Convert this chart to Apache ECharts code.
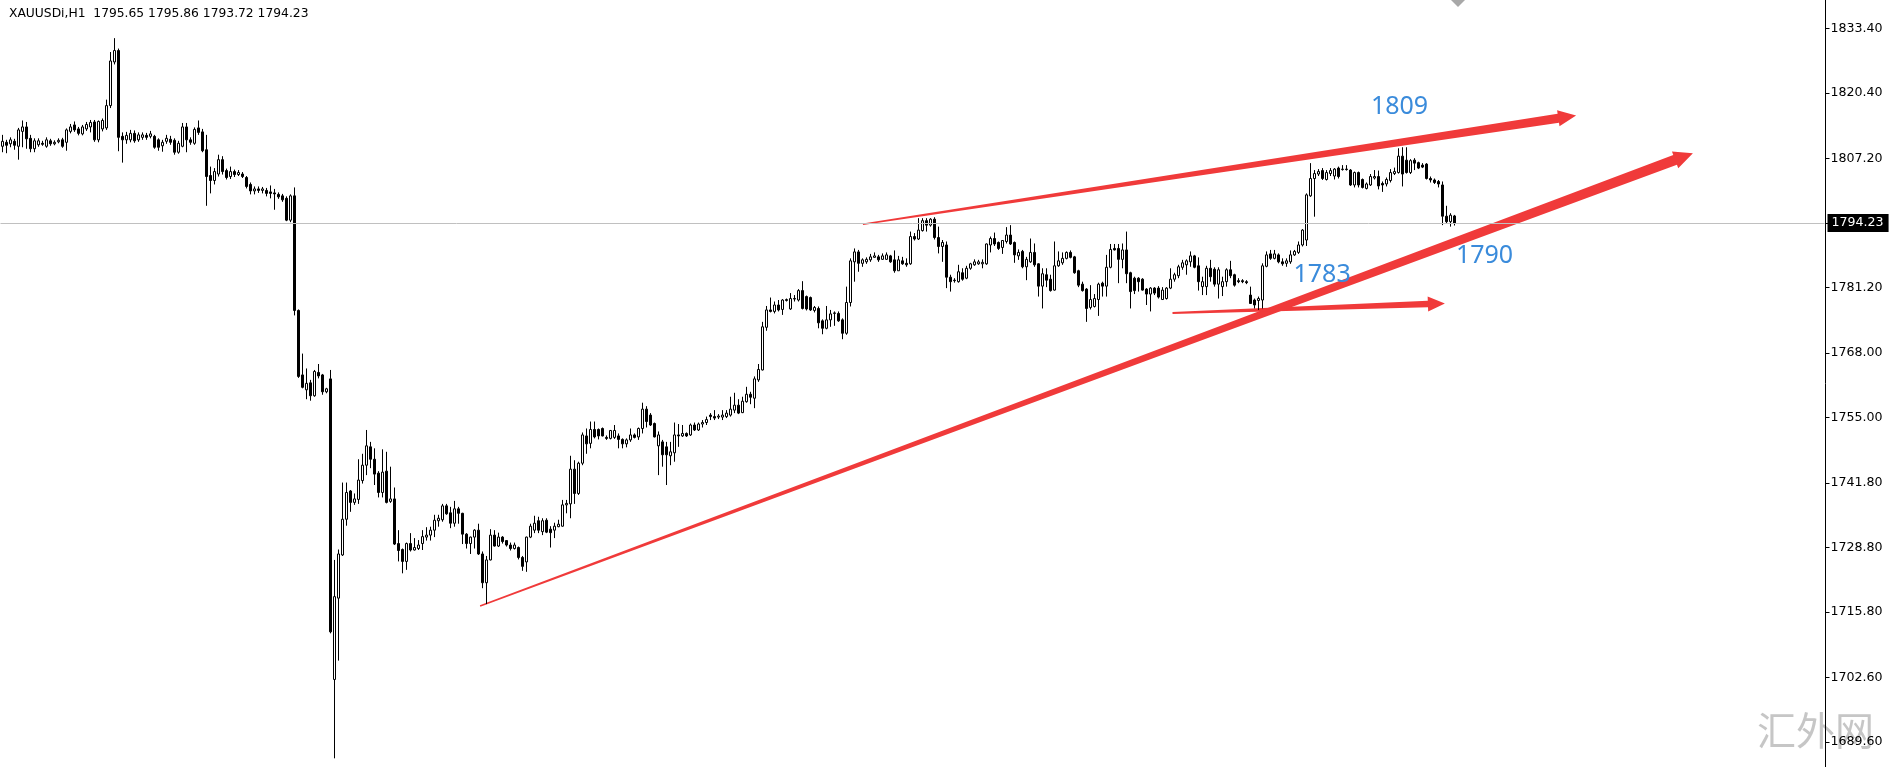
<!DOCTYPE html>
<html><head><meta charset="utf-8">
<script src="https://cdn.jsdelivr.net/npm/echarts@6/dist/echarts.min.js"></script>
<style>html,body{margin:0;padding:0;background:#fff}#c{width:1889px;height:767px}</style>
</head><body><div id="c"></div>
<script>
const symbolTitle = 'XAUUSDi,H1  1795.65 1795.86 1793.72 1794.23';
// each row: [open, close, low, high]
const candles = [
[1809.7,1810.7,1808.5,1812.0],[1810.5,1809.9,1808.3,1811.0],[1810.2,1811.0,1809.5,1811.5],[1810.7,1809.9,1809.0,1811.2],
[1809.7,1813.0,1807.0,1813.4],[1812.7,1813.6,1809.5,1814.9],[1813.6,1811.2,1809.2,1814.6],[1811.3,1809.2,1808.5,1812.0],
[1809.2,1810.8,1808.5,1811.3],[1810.0,1810.8,1809.6,1811.3],[1810.3,1810.1,1809.8,1810.8],[1809.7,1811.0,1809.4,1811.5],
[1810.8,1810.2,1809.8,1811.2],[1810.2,1810.5,1809.9,1810.9],[1810.6,1810.9,1810.3,1811.3],[1811.0,1809.7,1809.4,1811.4],
[1810.5,1813.0,1808.8,1813.3],[1812.7,1813.6,1812.3,1814.2],[1814.0,1813.0,1812.6,1814.7],[1813.2,1812.3,1811.9,1813.6],
[1812.2,1813.6,1811.9,1814.0],[1813.2,1814.1,1812.8,1814.6],[1813.6,1814.5,1812.5,1815.0],[1814.6,1811.0,1810.6,1815.0],
[1811.0,1814.7,1810.5,1814.9],[1813.2,1814.9,1812.7,1815.3],[1813.4,1817.9,1813.0,1819.1],[1817.9,1826.9,1817.4,1828.7],
[1826.7,1829.0,1826.2,1831.5],[1829.0,1811.5,1808.7,1829.4],[1811.7,1811.0,1806.4,1812.5],[1811.0,1811.9,1810.2,1812.6],
[1811.0,1812.3,1810.5,1813.0],[1812.3,1810.8,1810.4,1812.9],[1811.0,1812.0,1810.6,1812.5],[1811.5,1812.0,1811.0,1812.5],
[1811.9,1811.5,1811.0,1812.4],[1811.7,1812.2,1811.3,1812.8],[1811.7,1809.5,1809.2,1812.0],[1811.0,1809.5,1808.8,1811.3],
[1809.8,1810.5,1808.6,1811.0],[1810.7,1811.3,1810.2,1812.0],[1811.1,1810.5,1810.0,1811.8],[1810.9,1808.5,1808.0,1811.3],
[1808.5,1810.3,1808.2,1810.8],[1809.7,1813.6,1809.5,1814.4],[1813.6,1811.0,1808.5,1814.4],[1811.0,1810.5,1810.0,1811.5],
[1810.3,1813.1,1810.0,1813.5],[1813.4,1812.5,1812.0,1814.9],[1812.6,1808.8,1808.5,1813.2],[1809.0,1803.6,1797.7,1812.0],
[1803.8,1802.8,1800.2,1805.6],[1802.8,1804.6,1802.0,1805.3],[1804.1,1807.0,1803.6,1808.0],[1807.0,1804.6,1804.0,1807.7],
[1804.8,1803.4,1803.0,1805.2],[1803.6,1804.6,1803.1,1805.6],[1804.6,1804.0,1803.5,1805.0],[1804.0,1804.4,1803.7,1804.9],
[1804.1,1803.6,1803.3,1804.5],[1803.4,1801.6,1801.2,1803.7],[1802.0,1800.7,1800.0,1802.4],[1800.7,1801.1,1800.0,1801.6],
[1801.1,1800.8,1800.3,1801.6],[1800.8,1801.1,1800.2,1801.5],[1800.8,1800.2,1799.6,1801.3],[1800.5,1800.2,1799.2,1801.8],
[1800.3,1800.1,1796.9,1801.1],[1800.0,1799.5,1799.1,1800.4],[1799.7,1798.9,1798.5,1800.1],[1799.2,1794.8,1794.6,1799.6],
[1794.8,1799.7,1794.4,1800.0],[1799.7,1776.6,1775.6,1801.4],[1776.6,1763.3,1763.0,1776.8],[1763.6,1761.1,1760.9,1767.9],
[1760.6,1761.9,1758.7,1764.9],[1762.0,1759.4,1758.4,1762.6],[1759.4,1764.3,1759.2,1764.6],[1764.1,1763.4,1762.9,1765.8],
[1763.6,1760.2,1759.6,1763.8],[1760.2,1760.8,1759.9,1761.0],[1762.8,1711.8,1711.5,1764.6],[1702.2,1718.9,1686.3,1726.3],
[1718.6,1727.5,1706.0,1728.4],[1727.3,1734.5,1727.1,1741.9],[1734.5,1739.9,1733.2,1741.9],[1740.2,1737.9,1736.0,1740.4],
[1737.9,1738.6,1737.4,1739.7],[1738.5,1742.4,1737.6,1746.6],[1742.3,1745.4,1741.7,1747.7],[1745.4,1749.3,1743.4,1752.5],
[1749.1,1746.6,1744.8,1750.1],[1746.6,1743.6,1741.4,1748.8],[1743.8,1739.9,1738.9,1744.2],[1739.9,1744.0,1738.9,1748.6],
[1744.2,1737.9,1737.7,1748.1],[1738.1,1738.6,1737.8,1745.1],[1738.6,1729.5,1729.3,1740.9],[1729.6,1728.2,1726.0,1732.3],
[1728.4,1726.0,1723.6,1728.6],[1726.0,1729.6,1724.3,1729.8],[1729.6,1728.3,1728.0,1731.7],[1728.3,1728.8,1728.2,1730.7],
[1728.6,1729.3,1728.3,1730.3],[1729.6,1731.0,1728.3,1732.3],[1730.9,1731.3,1730.2,1732.9],[1731.3,1732.3,1730.2,1733.0],
[1732.3,1734.3,1730.9,1735.4],[1734.2,1734.7,1733.0,1735.4],[1734.4,1737.2,1734.0,1737.6],[1737.2,1735.6,1735.4,1737.6],
[1735.8,1733.7,1732.7,1737.0],[1733.7,1736.6,1733.0,1738.2],[1736.6,1735.7,1733.6,1737.0],[1735.7,1731.5,1729.5,1735.8],
[1731.5,1729.6,1728.6,1731.7],[1729.6,1730.9,1727.5,1731.0],[1730.9,1732.3,1728.6,1732.5],[1732.3,1727.5,1727.3,1733.6],
[1727.5,1721.7,1720.6,1728.0],[1721.7,1726.3,1717.4,1727.1],[1726.3,1731.3,1726.2,1732.5],[1731.3,1729.1,1729.0,1732.3],
[1729.1,1730.9,1728.9,1731.8],[1730.9,1730.0,1729.6,1731.1],[1730.2,1729.3,1729.0,1730.3],[1729.3,1728.6,1728.2,1729.8],
[1728.6,1729.3,1728.4,1729.8],[1728.8,1726.8,1726.4,1729.0],[1726.8,1725.0,1724.1,1727.1],[1725.9,1730.9,1723.9,1731.0],
[1730.9,1733.1,1730.7,1733.6],[1732.3,1733.7,1731.7,1735.2],[1734.2,1732.3,1731.7,1735.0],[1732.0,1734.2,1731.3,1734.7],
[1734.3,1731.9,1731.7,1734.7],[1732.5,1731.8,1728.8,1733.1],[1732.3,1733.1,1730.7,1733.8],[1733.0,1733.5,1732.9,1734.4],
[1733.1,1737.4,1733.0,1738.4],[1737.4,1737.7,1735.7,1738.4],[1737.6,1744.6,1734.7,1747.3],[1744.6,1739.7,1737.6,1746.4],
[1739.7,1745.8,1739.4,1746.1],[1745.8,1751.5,1745.4,1752.0],[1751.3,1749.7,1747.7,1752.8],[1749.8,1752.6,1748.8,1754.2],
[1752.6,1751.1,1750.8,1754.2],[1752.6,1751.3,1750.6,1752.8],[1752.8,1751.3,1751.2,1753.0],[1751.0,1750.8,1750.5,1751.4],
[1750.8,1752.4,1750.6,1752.5],[1751.0,1752.4,1750.7,1753.5],[1751.3,1750.6,1748.8,1751.8],[1750.6,1749.7,1748.8,1750.8],
[1749.7,1750.5,1749.0,1750.8],[1750.5,1751.5,1750.1,1752.8],[1751.5,1751.0,1750.8,1751.8],[1751.1,1752.8,1750.5,1753.0],
[1752.8,1756.7,1751.8,1758.0],[1756.7,1754.2,1753.0,1757.3],[1755.5,1753.5,1753.3,1755.9],[1753.8,1751.1,1751.0,1754.0],
[1749.3,1751.5,1743.4,1752.2],[1750.1,1747.5,1745.1,1750.5],[1749.1,1747.5,1741.4,1750.1],[1747.3,1748.1,1745.4,1750.1],
[1747.9,1751.5,1746.1,1754.0],[1751.5,1751.3,1749.1,1753.7],[1751.3,1751.8,1751.1,1753.5],[1751.8,1751.3,1751.1,1752.0],
[1751.5,1753.5,1751.3,1753.8],[1753.5,1752.5,1752.3,1754.0],[1752.5,1753.7,1752.3,1754.0],[1753.7,1754.0,1753.0,1754.5],
[1754.0,1754.6,1753.5,1755.2],[1755.5,1755.2,1754.5,1755.9],[1755.2,1754.9,1754.5,1756.5],[1755.1,1755.3,1754.7,1755.7],
[1755.1,1755.5,1754.5,1756.5],[1755.2,1755.9,1754.9,1756.5],[1755.5,1756.7,1755.2,1759.2],[1756.5,1757.5,1755.9,1760.0],
[1757.5,1755.9,1755.7,1758.7],[1756.0,1758.3,1755.9,1759.2],[1758.2,1759.7,1758.0,1761.2],[1759.7,1759.1,1757.7,1760.2],
[1758.9,1762.8,1756.9,1763.3],[1762.6,1764.7,1762.2,1765.8],[1764.6,1773.3,1764.5,1774.3],[1773.2,1776.7,1772.5,1777.5],
[1776.7,1776.4,1776.2,1779.2],[1776.4,1777.7,1776.0,1778.4],[1777.7,1776.7,1776.4,1778.7],[1776.8,1778.7,1775.7,1778.9],
[1778.6,1778.8,1778.4,1779.0],[1776.9,1779.0,1776.7,1780.1],[1779.0,1778.9,1778.4,1779.7],[1778.7,1780.6,1778.4,1780.9],
[1780.6,1777.0,1776.8,1782.5],[1779.4,1776.9,1776.6,1779.6],[1779.2,1776.7,1776.5,1779.4],[1776.6,1777.2,1776.2,1777.5],
[1777.0,1774.1,1773.0,1777.4],[1774.5,1773.0,1771.8,1774.8],[1773.0,1774.7,1772.8,1777.5],[1774.7,1775.9,1773.3,1776.7],
[1776.0,1776.1,1773.5,1776.4],[1776.0,1774.5,1774.3,1776.4],[1774.7,1772.0,1770.8,1775.0],[1772.0,1778.2,1771.7,1781.4],
[1778.2,1786.6,1777.4,1787.1],[1786.4,1788.4,1782.4,1789.1],[1788.4,1786.1,1784.4,1788.8],[1786.1,1786.8,1785.4,1787.1],
[1786.4,1786.9,1786.0,1787.3],[1786.8,1787.4,1786.4,1788.0],[1787.3,1787.6,1787.3,1788.3],[1787.4,1786.8,1786.4,1787.8],
[1786.9,1787.6,1786.8,1788.1],[1786.9,1787.8,1786.8,1788.3],[1787.6,1786.4,1786.2,1787.8],[1786.8,1784.6,1784.2,1788.7],
[1784.6,1786.8,1784.6,1787.6],[1786.6,1786.0,1785.8,1787.4],[1786.1,1785.8,1785.4,1787.1],[1786.0,1791.5,1785.8,1792.5],
[1791.5,1791.0,1790.7,1792.2],[1791.0,1792.8,1790.8,1795.2],[1792.7,1794.7,1792.5,1795.2],[1794.7,1793.8,1792.5,1795.2],
[1793.8,1795.0,1793.5,1795.2],[1795.0,1791.3,1790.9,1795.4],[1791.3,1789.5,1788.1,1793.5],[1789.5,1790.3,1786.4,1790.8],
[1789.8,1783.3,1781.1,1790.5],[1783.3,1782.4,1780.4,1783.8],[1782.7,1782.6,1782.2,1783.1],[1782.4,1784.4,1782.2,1785.8],
[1784.2,1782.9,1782.6,1785.1],[1783.1,1785.1,1782.9,1785.6],[1785.1,1786.0,1784.8,1786.2],[1785.8,1786.4,1785.6,1786.9],
[1786.0,1786.4,1785.8,1786.8],[1786.0,1786.3,1785.1,1786.9],[1786.0,1790.0,1785.8,1790.1],[1789.8,1791.1,1788.3,1791.5],
[1791.1,1790.0,1789.6,1792.3],[1790.3,1789.1,1788.8,1790.5],[1789.3,1790.7,1788.0,1790.8],[1790.5,1791.8,1790.1,1793.4],
[1791.8,1790.0,1789.8,1793.8],[1790.3,1787.8,1786.2,1790.5],[1787.6,1788.3,1786.8,1788.9],[1788.5,1785.4,1785.1,1788.8],
[1785.4,1786.9,1782.7,1787.4],[1786.4,1788.3,1786.2,1791.1],[1788.3,1785.8,1785.4,1790.1],[1786.0,1781.5,1779.4,1786.1],
[1781.5,1784.0,1777.0,1785.1],[1783.8,1782.7,1781.3,1785.1],[1782.9,1780.6,1780.4,1783.8],[1780.7,1785.6,1780.6,1790.5],
[1785.6,1786.6,1785.4,1788.5],[1786.2,1787.1,1785.8,1788.3],[1787.1,1788.3,1786.9,1788.5],[1788.3,1787.3,1787.1,1788.7],
[1787.4,1784.2,1784.0,1787.6],[1784.6,1781.7,1781.3,1784.8],[1781.9,1780.6,1780.4,1782.4],[1780.9,1777.0,1774.3,1781.1],
[1777.2,1778.8,1776.8,1781.7],[1777.4,1779.0,1777.2,1779.9],[1778.8,1781.9,1775.5,1782.2],[1782.1,1781.5,1779.4,1782.4],
[1781.5,1785.3,1779.4,1787.8],[1785.3,1788.9,1785.1,1790.0],[1789.1,1788.8,1788.7,1790.0],[1789.1,1786.9,1782.1,1790.0],
[1786.9,1788.8,1785.1,1790.1],[1788.8,1784.0,1782.1,1792.5],[1784.2,1780.4,1777.0,1784.4],[1783.1,1780.6,1779.9,1783.4],
[1783.1,1782.4,1780.4,1783.3],[1782.9,1780.7,1780.6,1783.1],[1780.9,1779.9,1777.7,1781.1],[1779.9,1781.1,1776.4,1781.3],
[1781.1,1780.1,1779.7,1781.3],[1781.1,1779.3,1779.0,1781.5],[1778.8,1780.7,1778.7,1781.3],[1779.0,1781.1,1778.8,1781.3],
[1781.1,1782.9,1780.9,1785.1],[1782.9,1783.8,1782.4,1784.2],[1783.6,1785.4,1783.1,1785.8],[1785.3,1786.2,1784.8,1786.8],
[1785.8,1786.6,1783.8,1786.9],[1786.4,1787.6,1785.4,1788.5],[1787.6,1785.3,1785.1,1787.8],[1785.6,1782.4,1780.6,1787.3],
[1781.4,1782.4,1779.7,1783.4],[1781.4,1785.1,1779.7,1785.6],[1785.1,1783.4,1782.4,1786.8],[1784.9,1781.9,1781.4,1785.3],
[1781.9,1784.8,1779.0,1785.3],[1781.4,1782.4,1779.5,1783.4],[1782.4,1784.8,1781.4,1785.1],[1784.8,1783.6,1783.1,1786.6],
[1783.8,1781.7,1781.4,1784.0],[1782.6,1782.4,1782.1,1783.1],[1782.6,1782.4,1782.1,1782.9],[1782.4,1782.2,1781.9,1782.7],
[1779.7,1778.0,1778.0,1781.4],[1778.7,1777.7,1777.0,1779.0],[1778.6,1779.0,1776.7,1779.4],[1778.7,1785.6,1777.0,1786.1],
[1785.5,1787.8,1785.3,1788.5],[1788.0,1787.1,1786.8,1788.8],[1787.1,1788.0,1786.9,1788.8],[1787.8,1786.4,1786.1,1788.1],
[1786.4,1786.0,1785.6,1787.1],[1786.1,1786.6,1785.4,1787.1],[1786.4,1787.8,1786.0,1788.7],[1787.8,1788.5,1787.6,1788.8],
[1788.3,1789.8,1788.0,1790.5],[1789.8,1792.8,1789.5,1793.0],[1790.8,1799.9,1789.6,1800.2],[1799.7,1803.2,1799.5,1806.3],
[1803.2,1804.2,1795.5,1804.9],[1804.1,1804.6,1803.7,1805.1],[1804.8,1803.2,1802.9,1805.3],[1803.0,1804.4,1802.8,1804.9],
[1804.2,1804.8,1803.7,1805.3],[1803.7,1805.1,1803.0,1805.3],[1805.3,1803.6,1803.2,1805.6],[1805.0,1805.1,1804.8,1805.9],
[1805.1,1805.0,1804.8,1805.9],[1804.9,1801.9,1801.7,1805.1],[1801.9,1804.4,1801.4,1804.6],[1804.4,1801.9,1801.4,1804.6],
[1803.0,1801.4,1801.2,1803.2],[1801.2,1802.1,1801.0,1802.4],[1801.9,1803.6,1801.7,1804.1],[1803.3,1803.6,1803.0,1804.9],
[1803.6,1801.7,1801.0,1804.8],[1802.2,1801.9,1800.5,1802.6],[1802.1,1803.0,1801.6,1803.4],[1802.8,1804.4,1802.4,1805.1],
[1804.2,1804.6,1803.9,1805.4],[1804.4,1807.7,1804.2,1809.3],[1807.7,1804.1,1801.6,1809.5],[1806.9,1804.4,1804.2,1809.5],
[1804.4,1806.8,1804.1,1807.1],[1806.9,1806.3,1804.9,1807.3],[1806.4,1805.3,1805.1,1806.6],[1805.9,1805.5,1805.3,1806.3],
[1806.1,1803.2,1803.0,1806.3],[1803.2,1802.9,1802.4,1803.6],[1802.9,1802.4,1802.1,1803.2],[1802.6,1802.1,1801.4,1802.9],
[1801.9,1795.6,1793.8,1802.6],[1795.6,1794.5,1794.2,1797.7],[1794.5,1795.8,1793.5,1796.2],[1795.65,1794.23,1793.72,1795.86]
];
const yTickValues = [1833.40, 1820.40, 1807.20, 1794.20, 1781.20, 1768.00, 1755.00, 1741.80, 1728.80, 1715.80, 1702.60, 1689.60];
const yLabelValues = [1833.40, 1820.40, 1807.20, 1781.20, 1768.00, 1755.00, 1741.80, 1728.80, 1715.80, 1702.60, 1689.60];
const lastPrice = 1794.23;
// trend arrows: [startBar, startPrice, endBar, endPrice]
const trendArrows = [
  [215.1, 1794.0, 393.4, 1815.9],
  [119.4, 1717.0, 422.6, 1808.3],
  [292.5, 1776.1, 360.6, 1778.0]
];
// price notes: [bar, price]
const noteLabels = ['1809', '1783', '1790'];
const notePositions = [[349.25, 1817.6], [329.9, 1783.75], [370.5, 1787.7]];
const watermarkText = '汇外网';

// ---- layout / style ----
const slotCount = 456;
const categories = Array.from({length: slotCount}, (_, i) => String(i));
const arrowColor = '#f03a3a';
const arrowStyles = [
  {w0: 1.5, w1: 9, head: 18, hw: 16},
  {w0: 1.5, w1: 10.5, head: 19, hw: 18},
  {w0: 2, w1: 6.5, head: 17, hw: 15}
];
const axisFont = 'DejaVu Sans';

const chart = echarts.init(document.getElementById('c'), null, {renderer: 'canvas'});
chart.setOption({
  animation: false,
  backgroundColor: '#fff',
  title: [
    {
      text: symbolTitle, left: 4, top: 3,
      textStyle: {fontFamily: axisFont, fontSize: 12.3, fontWeight: 'normal', color: '#000'}
    },
    {
      text: watermarkText, left: 1757, top: 711, z: 0, padding: 0,
      textStyle: {fontFamily: 'Noto Sans CJK SC', fontSize: 39, fontWeight: 'normal', color: '#c6c6c6'}
    }
  ],
  grid: {left: 0.5, right: 64.5, top: 0, bottom: 0},
  xAxis: [
    {type: 'category', data: categories, show: false, boundaryGap: true},
    {type: 'value', min: -0.5, max: slotCount - 0.5, show: false}
  ],
  yAxis: {
    type: 'value', position: 'right', offset: 1, min: 1684.55, max: 1839.19, z: 5,
    axisLine: {show: true, onZero: false, lineStyle: {color: '#000', width: 1}},
    axisTick: {show: true, length: 4, inside: false, customValues: yTickValues, lineStyle: {color: '#000'}},
    axisLabel: {show: true, customValues: yLabelValues, formatter: v => Number(v).toFixed(2),
      margin: 5, color: '#000', fontFamily: axisFont, fontSize: 12.6},
    splitLine: {show: false}
  },
  graphic: [
    {type: 'polygon', shape: {points: [[1451, 0], [1465, 0], [1458, 7]]}, style: {fill: '#a8a8a8'}}
  ],
  series: [
    {
      type: 'candlestick', xAxisIndex: 0, yAxisIndex: 0, data: candles, barWidth: 2,
      itemStyle: {color: '#fff', color0: '#000', borderColor: '#000', borderColor0: '#000', borderWidth: 1},
      markLine: {
        silent: true, symbol: ['none', 'none'], animation: false,
        lineStyle: {color: '#c0c0c0', width: 1, type: 'solid'},
        label: {show: true, position: 'end', formatter: lastPrice.toFixed(2), color: '#fff',
                backgroundColor: '#000', padding: [3, 5, 2, 4], fontFamily: axisFont, fontSize: 12.6, distance: 3},
        emphasis: {disabled: true},
        data: [{yAxis: lastPrice}]
      }
    },
    {
      type: 'custom', xAxisIndex: 1, yAxisIndex: 0, data: trendArrows, encode: {x: [0, 2], y: [1, 3]},
      silent: true, clip: false,
      renderItem: function (params, api) {
        const st = arrowStyles[params.dataIndex];
        const s = api.coord([api.value(0), api.value(1)]);
        const e = api.coord([api.value(2), api.value(3)]);
        const dx = e[0] - s[0], dy = e[1] - s[1], len = Math.hypot(dx, dy);
        const ux = dx / len, uy = dy / len, nx = -uy, ny = ux;
        const bx = e[0] - ux * st.head, by = e[1] - uy * st.head;
        const pts = [
          [s[0] + nx * st.w0 / 2, s[1] + ny * st.w0 / 2],
          [bx + nx * st.w1 / 2, by + ny * st.w1 / 2],
          [bx + nx * st.hw / 2, by + ny * st.hw / 2],
          [e[0], e[1]],
          [bx - nx * st.hw / 2, by - ny * st.hw / 2],
          [bx - nx * st.w1 / 2, by - ny * st.w1 / 2],
          [s[0] - nx * st.w0 / 2, s[1] - ny * st.w0 / 2]
        ];
        return {type: 'polygon', shape: {points: pts}, style: {fill: arrowColor}};
      }
    },
    {
      type: 'custom', xAxisIndex: 1, yAxisIndex: 0, data: notePositions, encode: {x: 0, y: 1},
      silent: true, clip: false,
      renderItem: function (params, api) {
        const c = api.coord([api.value(0), api.value(1)]);
        return {type: 'text', x: c[0], y: c[1],
          style: {text: noteLabels[params.dataIndex], fill: '#3a8bdb', fontSize: 25,
                  fontFamily: 'Noto Sans', align: 'center', verticalAlign: 'middle'}};
      }
    }
  ]
});
</script>
</body></html>
